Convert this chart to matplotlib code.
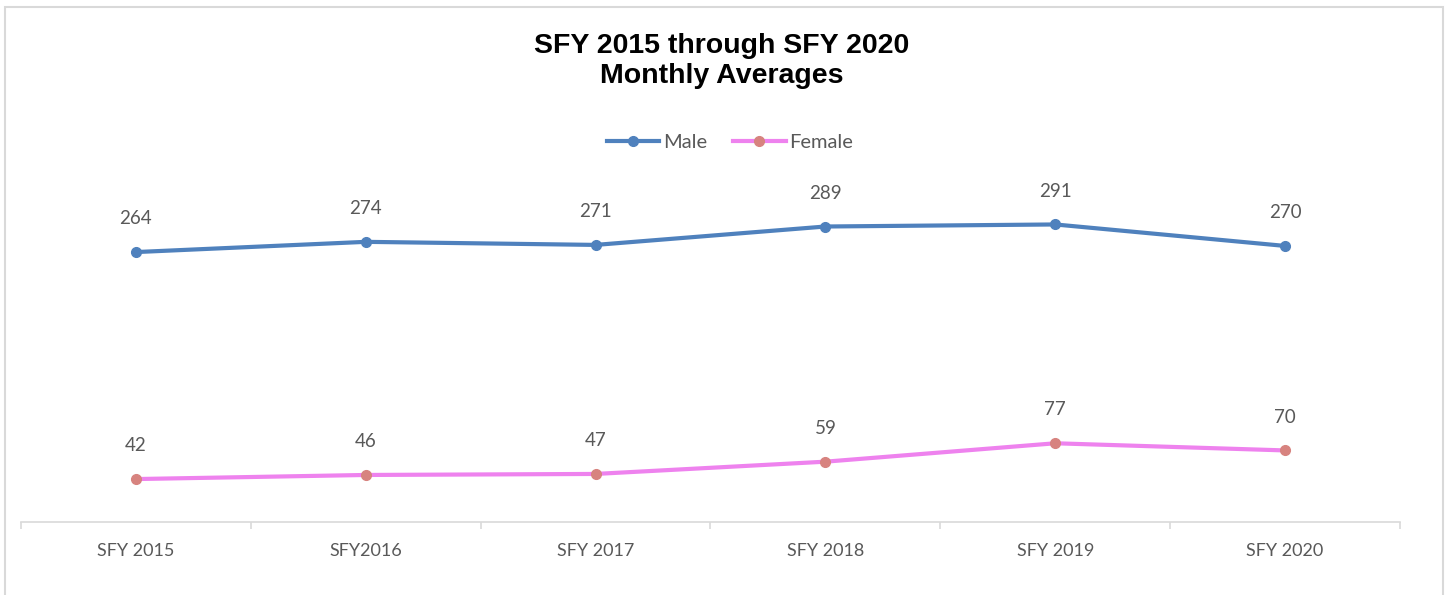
import matplotlib.pyplot as plt
from matplotlib.patches import Rectangle

years = ["SFY 2015", "SFY2016", "SFY 2017", "SFY 2018", "SFY 2019", "SFY 2020"]
male = [264, 274, 271, 289, 291, 270]
female = [42, 46, 47, 59, 77, 70]

W, H = 1447, 595
fig = plt.figure(figsize=(W / 100, H / 100), dpi=100)
ax = fig.add_axes([21 / W, (H - 522) / H, (1400 - 21) / W, (522 - 158) / H])

txt = "#595959"
x = range(len(years))
ax.plot(x, male, color="#4F81BD", lw=3, marker="o", ms=7, label="Male")
ax.plot(x, female, color="#EE82EE", lw=3, marker="o", ms=7,
        mfc="#D7837F", mec="#D7837F", label="Female")

for i, v in enumerate(male):
    ax.annotate(str(v), (i, v), xytext=(0, 24), textcoords="offset points",
                ha="center", va="center", fontsize=13.5, color=txt, family="Lato")
for i, v in enumerate(female):
    ax.annotate(str(v), (i, v), xytext=(0, 24), textcoords="offset points",
                ha="center", va="center", fontsize=13.5, color=txt, family="Lato")

ax.set_xlim(-0.5, len(years) - 0.5)
ax.set_ylim(0, 356)
ax.set_yticks([])
ax.set_xticks(list(x))
ax.set_xticklabels(years, fontsize=13, color=txt, family="Lato")
ax.set_xticks([i - 0.5 for i in range(len(years) + 1)], minor=True)
ax.tick_params(axis="x", which="major", length=0, pad=15)
ax.tick_params(axis="x", which="minor", length=5, color="#D9D9D9", width=1.2)
for s in ["top", "left", "right"]:
    ax.spines[s].set_visible(False)
ax.spines["bottom"].set_color("#D9D9D9")
ax.spines["bottom"].set_linewidth(1.2)

fig.text(722 / W, 1 - 61 / H, "SFY 2015 through SFY 2020\nMonthly Averages",
         ha="center", va="center", fontsize=20.5, fontweight="bold",
         family="Liberation Sans", linespacing=1.2)

leg = fig.legend(loc="center", bbox_to_anchor=(730 / W, 1 - 142 / H), ncol=2,
                 frameon=False, prop={"family": "Lato", "size": 14.5},
                 handlelength=2.6, columnspacing=1.3, handletextpad=0.2)
for t in leg.get_texts():
    t.set_color(txt)

fig.patches.append(Rectangle((5 / W, -0.05), (1443 - 5) / W, 1.05 - 7 / H,
                             transform=fig.transFigure, fill=False,
                             edgecolor="#D9D9D9", lw=1.5))

fig.savefig("out.png", dpi=100)
